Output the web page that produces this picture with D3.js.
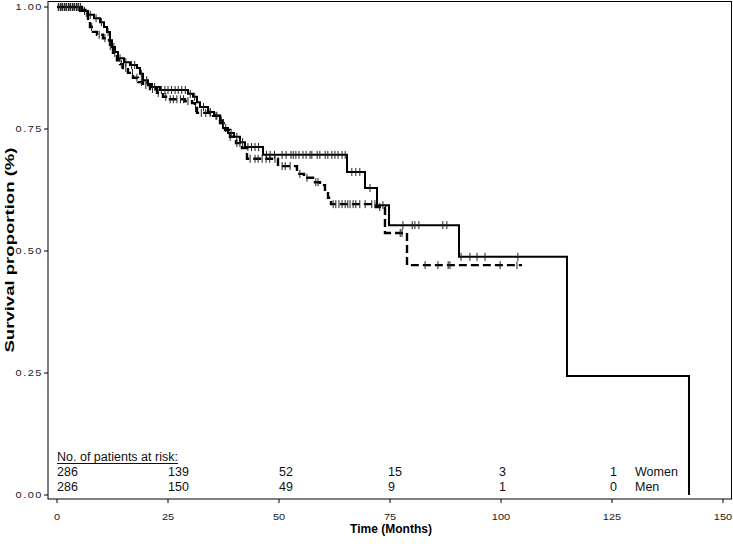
<!DOCTYPE html>
<html>
<head>
<meta charset="utf-8">
<script src="https://cdn.jsdelivr.net/npm/d3@7"></script>
<style>
  body { margin: 0; background: #fff; }
  svg { display: block; }
</style>
</head>
<body>
<div id="chart"></div>
<script>
// Kaplan-Meier step knots (time in months, survival proportion)
const womenTime = [0, 5.18, 6.98, 8.33, 9.68, 10.59, 11.26, 11.94, 12.39, 13.06, 13.74, 15.09, 16.44, 18.02, 18.69, 19.37, 20.50, 21.40, 23.20, 29.50, 30.63, 31.53, 32.21, 34.01, 35.36, 36.71, 37.39, 38.51, 39.86, 41.22, 42.34, 46.40, 65.32, 69.37, 72.07, 74.77, 90.54, 114.86, 142.34];
const womenSurv = [1, 0.992, 0.984, 0.977, 0.969, 0.959, 0.949, 0.932, 0.918, 0.908, 0.895, 0.887, 0.881, 0.875, 0.863, 0.850, 0.842, 0.836, 0.830, 0.822, 0.816, 0.805, 0.795, 0.785, 0.777, 0.768, 0.752, 0.742, 0.734, 0.723, 0.713, 0.697, 0.662, 0.629, 0.594, 0.553, 0.488, 0.244, 0];
const womenCensor = [0.4, 0.9, 1.3, 1.8, 2.2, 2.7, 3.1, 3.6, 4.0, 4.5, 4.9, 6.2, 7.5, 8.8, 10.0, 11.5, 12.8, 14.2, 15.5, 16.8, 17.5, 19.0, 20.2, 22.0, 23.5, 24.3, 25.0, 25.8, 26.6, 27.3, 28.1, 28.9, 30.0, 31.0, 33.0, 34.5, 35.8, 37.0, 38.0, 39.2, 40.5, 41.8, 43.0, 43.8, 44.6, 45.4, 47.2, 48.0, 49.0, 50.7, 51.6, 52.7, 53.2, 53.8, 54.5, 55.4, 56.1, 57.0, 57.4, 58.6, 59.2, 60.4, 61.0, 61.9, 62.6, 63.3, 64.2, 64.9, 66.4, 67.3, 68.2, 70.5, 73.4, 77.9, 80.0, 80.6, 81.5, 86.9, 87.8, 91.0, 93.0, 94.6, 96.4, 103.8];

const menTime = [0, 5.63, 6.31, 6.98, 7.43, 8.11, 9.01, 10.36, 11.26, 11.94, 12.61, 13.51, 14.19, 14.86, 15.99, 17.12, 18.24, 19.37, 20.95, 22.52, 23.87, 25.45, 28.83, 30.41, 31.08, 31.53, 35.14, 36.71, 37.84, 38.96, 40.32, 41.67, 42.79, 49.77, 54.05, 55.63, 57.66, 59.23, 60.36, 61.04, 61.71, 71.85, 73.87, 78.83, 104.73];
const menSurv = [1, 0.994, 0.988, 0.973, 0.959, 0.949, 0.943, 0.936, 0.932, 0.920, 0.906, 0.891, 0.883, 0.875, 0.865, 0.855, 0.846, 0.840, 0.832, 0.824, 0.816, 0.811, 0.807, 0.803, 0.793, 0.783, 0.777, 0.762, 0.748, 0.734, 0.721, 0.711, 0.689, 0.674, 0.658, 0.650, 0.641, 0.635, 0.621, 0.609, 0.596, 0.590, 0.537, 0.471, 0.471];
const menCensor = [0.3, 0.8, 1.2, 1.7, 2.1, 2.6, 3.0, 3.5, 3.9, 4.4, 4.8, 5.3, 6.6, 7.8, 9.5, 10.8, 12.0, 13.0, 14.5, 15.5, 17.0, 18.0, 19.0, 20.0, 21.5, 22.8, 24.5, 25.5, 26.2, 27.0, 27.8, 28.5, 29.5, 31.2, 32.5, 33.5, 34.5, 36.0, 37.5, 39.0, 40.5, 41.2, 43.5, 44.6, 45.3, 46.2, 47.1, 47.9, 49.1, 50.7, 51.4, 52.5, 54.7, 56.3, 58.3, 58.8, 62.2, 62.8, 63.5, 64.2, 64.9, 65.5, 66.0, 66.7, 67.3, 68.2, 69.4, 70.9, 71.6, 72.7, 77.3, 77.7, 82.9, 85.8, 88.1, 88.5, 99.8, 103.6];

// numbers at risk
const riskTimes = [0, 25, 50, 75, 100, 125];
const riskWomen = [286, 139, 52, 15, 3, 1];
const riskMen = [286, 150, 49, 9, 1, 0];

const xTicks = [0, 25, 50, 75, 100, 125, 150];
const yTicks = [0, 0.25, 0.5, 0.75, 1];

const W = 733, H = 546;
const frame = { left: 48, right: 731.5, top: 1.5, bottom: 499 };

const x = d3.scaleLinear().domain([0, 150]).range([57, 723]);
const y = d3.scaleLinear().domain([0, 1]).range([495, 7]);

const svg = d3.select('#chart')
  .append('svg')
  .attr('width', W)
  .attr('height', H)
  .attr('font-family', 'Liberation Sans, Arial, sans-serif');

// plot frame
svg.append('rect')
  .attr('x', frame.left)
  .attr('y', frame.top)
  .attr('width', frame.right - frame.left)
  .attr('height', frame.bottom - frame.top)
  .attr('fill', 'none')
  .attr('stroke', '#000')
  .attr('stroke-width', 1);

// y ticks + labels (squashed, wide look)
const yAxis = svg.append('g');
yTicks.forEach(v => {
  yAxis.append('line')
    .attr('x1', 44).attr('x2', frame.left)
    .attr('y1', y(v)).attr('y2', y(v))
    .attr('stroke', '#000');
  yAxis.append('text')
    .attr('transform', `translate(43,${y(v) + 3}) scale(1,0.75)`)
    .attr('text-anchor', 'end')
    .attr('font-size', '11px')
    .attr('letter-spacing', '1.5px')
    .attr('fill', '#222')
    .text(d3.format('.2f')(v));
});

// x ticks + labels
const xAxis = svg.append('g');
xTicks.forEach(v => {
  xAxis.append('line')
    .attr('x1', x(v)).attr('x2', x(v))
    .attr('y1', frame.bottom).attr('y2', frame.bottom + 4)
    .attr('stroke', '#000');
  xAxis.append('text')
    .attr('transform', `translate(${x(v)},520) scale(1,0.75)`)
    .attr('text-anchor', 'middle')
    .attr('font-size', '11px')
    .attr('fill', '#222')
    .text(v);
});

// axis titles
svg.append('text')
  .attr('x', 391).attr('y', 533)
  .attr('text-anchor', 'middle')
  .attr('font-size', '12px')
  .attr('font-weight', 'bold')
  .text('Time (Months)');

svg.append('text')
  .attr('transform', 'translate(14,250) rotate(-90)')
  .attr('text-anchor', 'middle')
  .attr('font-size', '13px')
  .attr('font-weight', 'bold')
  .attr('textLength', 205)
  .attr('lengthAdjust', 'spacingAndGlyphs')
  .text('Survival proportion (%)');

// survival curves
const line = d3.line()
  .x(d => x(d[0]))
  .y(d => y(d[1]))
  .curve(d3.curveStepAfter);

const survAt = (times, surv, t) => surv[d3.bisectRight(times, t) - 1];

const groups = [
  { times: womenTime, surv: womenSurv, censor: womenCensor, dash: null, width: 2 },
  { times: menTime, surv: menSurv, censor: menCensor, dash: '8,4', width: 2.4 }
];

groups.forEach(g => {
  svg.append('path')
    .datum(d3.zip(g.times, g.surv))
    .attr('d', line)
    .attr('fill', 'none')
    .attr('stroke', '#000')
    .attr('stroke-width', g.width)
    .attr('stroke-dasharray', g.dash);

  svg.append('g')
    .selectAll('line')
    .data(g.censor)
    .enter()
    .append('line')
      .attr('x1', d => x(d)).attr('x2', d => x(d))
      .attr('y1', d => y(survAt(g.times, g.surv, d)) - 4)
      .attr('y2', d => y(survAt(g.times, g.surv, d)) + 4)
      .attr('stroke', '#222')
      .attr('stroke-width', 1);
});

// number at risk table
const risk = svg.append('g').attr('font-size', '12.5px').attr('fill', '#111');
risk.append('text')
  .attr('x', x(0)).attr('y', 461)
  .text('No. of patients at risk:');
risk.append('line')
  .attr('x1', x(0)).attr('x2', x(0) + 121)
  .attr('y1', 463.5).attr('y2', 463.5)
  .attr('stroke', '#111');

[[riskWomen, 476, 'Women'], [riskMen, 491, 'Men']].forEach(([vals, yy, name]) => {
  risk.selectAll(null)
    .data(vals)
    .enter()
    .append('text')
      .attr('x', (d, i) => x(riskTimes[i]) - (riskTimes[i] >= 75 ? 2 : 0))
      .attr('y', yy)
      .text(d => d);
  risk.append('text')
    .attr('x', 635).attr('y', yy)
    .text(name);
});
</script>
</body>
</html>
